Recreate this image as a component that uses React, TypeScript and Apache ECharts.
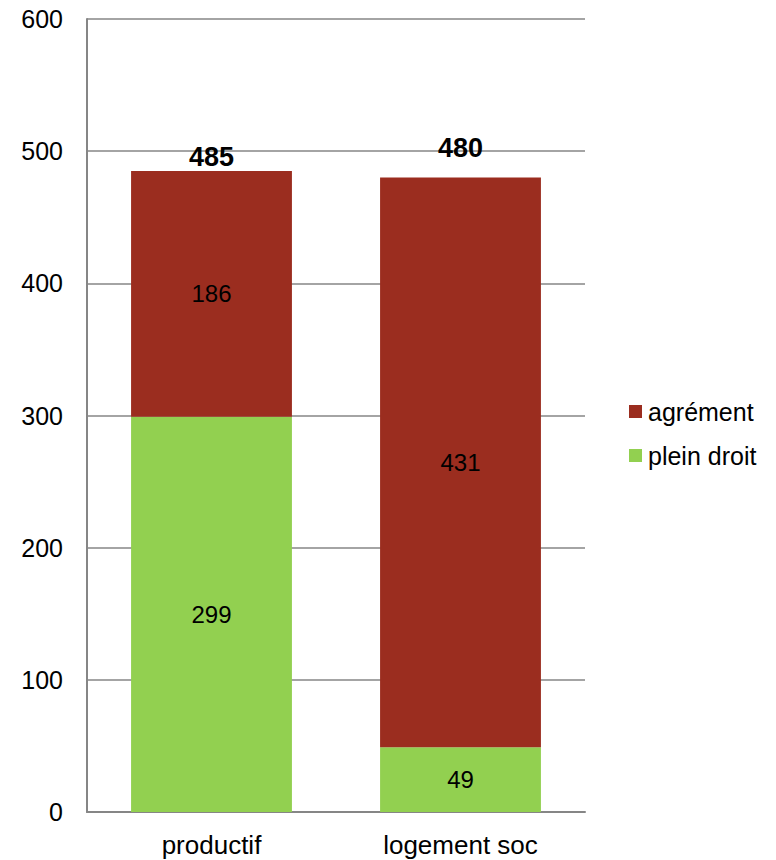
import React, { useEffect, useRef } from "react";
import * as echarts from "echarts";

const categories = ["productif", "logement soc"];
const pleinDroit = [299, 49];
const agrement = [186, 431];
const totals = [485, 480];
const totalShiftY = [2, -14];
const yTicks = { min: 0, max: 600, interval: 100 };

export default function App() {
  const ref = useRef<HTMLDivElement>(null);
  useEffect(() => {
    document.body.style.margin = "0";
    const chart = echarts.init(ref.current!, null, { renderer: "svg" });
    const font = "Liberation Sans, Arial, sans-serif";
    const totalLabel = {
      show: true,
      position: "top",
      distance: 1,
      fontSize: 27,
      fontWeight: "bold",
      color: "#000000",
      opacity: 1,
      fontFamily: font,
    };
    chart.setOption({
      animation: false,
      backgroundColor: "#ffffff",
      textStyle: { fontFamily: font },
      grid: { left: 87, right: 191, top: 19, bottom: 48, containLabel: false },
      legend: {
        orient: "vertical",
        left: 629,
        top: 399,
        padding: 0,
        icon: "rect",
        itemWidth: 13,
        itemHeight: 13,
        itemGap: 19,
        textStyle: { fontSize: 25, color: "#000", fontFamily: font, padding: [0, 0, 0, 1] },
        data: ["agrément", "plein droit"],
      },
      xAxis: {
        type: "category",
        data: categories,
        axisLine: { lineStyle: { color: "#868686", width: 2 } },
        axisTick: { show: false },
        axisLabel: { fontSize: 26, color: "#000", margin: 20, fontFamily: font },
      },
      yAxis: {
        type: "value",
        min: yTicks.min,
        max: yTicks.max,
        interval: yTicks.interval,
        axisLine: { show: true, lineStyle: { color: "#868686", width: 2 } },
        axisTick: { show: false },
        splitLine: { lineStyle: { color: "#868686", width: 1.5 } },
        axisLabel: { fontSize: 25, color: "#000", margin: 24, fontFamily: font },
      },
      series: [
        {
          name: "plein droit",
          type: "bar",
          stack: "s",
          barWidth: "64.6%",
          data: pleinDroit,
          itemStyle: { color: "#92D050" },
          label: { show: true, position: "inside", fontSize: 24, color: "#000", fontFamily: font },
        },
        {
          name: "agrément",
          type: "bar",
          stack: "s",
          barWidth: "64.6%",
          data: agrement,
          itemStyle: { color: "#9B2D1F" },
          label: { show: true, position: "inside", fontSize: 24, color: "#000", fontFamily: font },
        },
        {
          name: "total",
          type: "scatter",
          data: totals,
          symbol: "circle",
          symbolSize: 2,
          itemStyle: { color: "rgba(255,255,255,0)", opacity: 1 },
          label: totalLabel,
          labelLayout: (p: any) => ({ dy: totalShiftY[p.dataIndex], hideOverlap: false }),
          emphasis: { disabled: true },
          silent: true,
          z: 10,
        },
      ],
    });
    return () => chart.dispose();
  }, []);
  return <div ref={ref} style={{ width: 776, height: 860 }} />;
}
